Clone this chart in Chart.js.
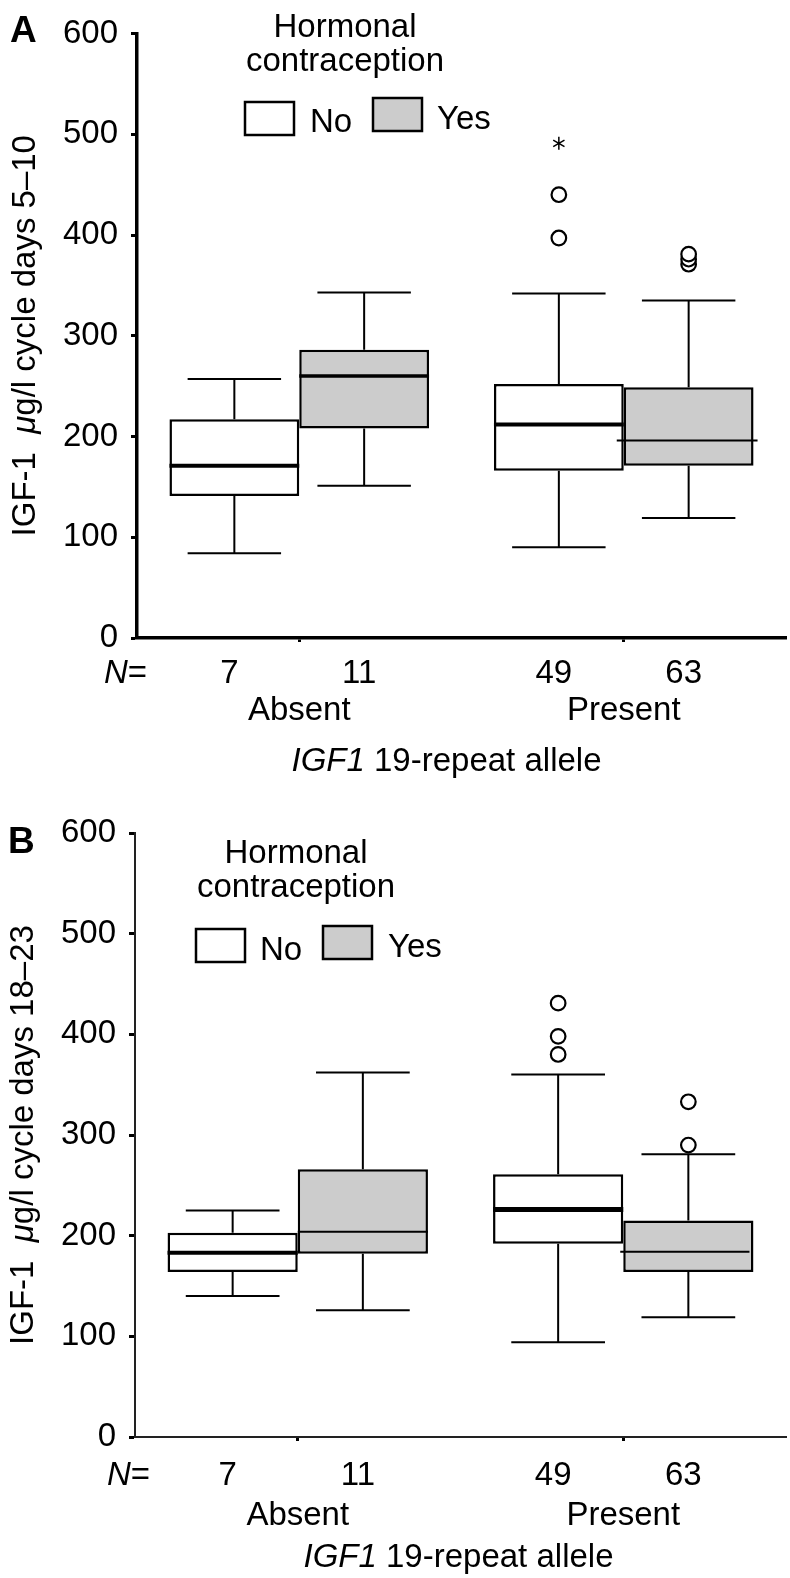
<!DOCTYPE html>
<html><head><meta charset="utf-8">
<script src="https://cdn.jsdelivr.net/npm/chart.js@4.4.1/dist/chart.umd.min.js"></script>
<style>
html,body{margin:0;padding:0;background:#fff;}
canvas{display:block;}
</style></head>
<body>
<canvas id="chartA" width="790" height="789"></canvas>
<canvas id="chartB" width="790" height="789"></canvas>
<script>
// ---------------- DATA ----------------
const categories = ['Absent', 'Present'];
const seriesNames = ['No', 'Yes'];
const yTickValues = [0, 100, 200, 300, 400, 500, 600];
const nNo = [7, 49];
const nYes = [11, 63];

// Panel A: IGF-1 cycle days 5–10
const aNoLow = [84, 90];
const aNoQ1 = [141, 166];
const aNoMed = [171, 212];
const aNoQ3 = [217, 252];
const aNoHigh = [257, 342];
const aNoOutliers = [[], [397, 440]];
const aNoExtremes = [[], [491]];
const aYesLow = [151, 119];
const aYesQ1 = [208, 171];
const aYesMed = [260, 196];
const aYesQ3 = [286, 249];
const aYesHigh = [343, 335];
const aYesOutliers = [[], [371, 376, 381]];
const aYesExtremes = [[], []];

// Panel B: IGF-1 cycle days 18–23
const bNoLow = [140, 94];
const bNoQ1 = [164, 192];
const bNoMed = [183, 226];
const bNoQ3 = [203, 261];
const bNoHigh = [225, 360];
const bNoOutliers = [[], [380, 398, 431]];
const bNoExtremes = [[], []];
const bYesLow = [126, 119];
const bYesQ1 = [182, 164];
const bYesMed = [204, 184];
const bYesQ3 = [266, 215];
const bYesHigh = [362, 281];
const bYesOutliers = [[], [290, 333]];
const bYesExtremes = [[], []];

// ---------------- STYLE ----------------
const FONT = '"Liberation Sans", Arial, Helvetica, sans-serif';
const FILL_NO = '#ffffff';
const FILL_YES = '#cccccc';

function makePanel(canvasId, cfg) {
  const series = [
    {name: seriesNames[0], low: cfg.noLow, q1: cfg.noQ1, med: cfg.noMed, q3: cfg.noQ3, high: cfg.noHigh, out: cfg.noOut, ext: cfg.noExt, n: nNo, fill: FILL_NO},
    {name: seriesNames[1], low: cfg.yesLow, q1: cfg.yesQ1, med: cfg.yesMed, q3: cfg.yesQ3, high: cfg.yesHigh, out: cfg.yesOut, ext: cfg.yesExt, n: nYes, fill: FILL_YES}
  ];

  const extras = {
    id: 'boxExtras',
    afterDatasetsDraw(chart) {
      const ctx = chart.ctx;
      const ys = chart.scales.y;
      series.forEach((s, i) => {
        const meta = chart.getDatasetMeta(i);
        meta.data.forEach((bar, j) => {
          const cx = bar.x, w = bar.width;
          const capHalf = w * 0.36;
          const pQ1 = ys.getPixelForValue(s.q1[j]);
          const pQ3 = ys.getPixelForValue(s.q3[j]);
          const pLo = ys.getPixelForValue(s.low[j]);
          const pHi = ys.getPixelForValue(s.high[j]);
          ctx.save();
          ctx.strokeStyle = '#000';
          ctx.lineCap = 'butt';
          ctx.lineWidth = cfg.whiskerWidth;
          ctx.beginPath();
          ctx.moveTo(cx, pQ3); ctx.lineTo(cx, pHi);
          ctx.moveTo(cx - capHalf, pHi); ctx.lineTo(cx + capHalf, pHi);
          ctx.moveTo(cx, pQ1); ctx.lineTo(cx, pLo);
          ctx.moveTo(cx - capHalf, pLo); ctx.lineTo(cx + capHalf, pLo);
          ctx.stroke();
          // median
          const ms = cfg.medianStyle[i][j];
          const pm = ys.getPixelForValue(s.med[j]);
          ctx.lineWidth = ms.w;
          ctx.beginPath();
          ctx.moveTo(cx - w / 2 - ms.l, pm);
          ctx.lineTo(cx + w / 2 + ms.r, pm);
          ctx.stroke();
          // outliers (circles)
          ctx.lineWidth = 2.2;
          s.out[j].forEach(v => {
            const py = ys.getPixelForValue(v);
            ctx.beginPath();
            ctx.arc(cx, py, 7.3, 0, Math.PI * 2);
            ctx.fillStyle = '#fff';
            ctx.fill();
            ctx.stroke();
          });
          // extremes (asterisk)
          ctx.lineWidth = 1.5;
          s.ext[j].forEach(v => {
            const py = ys.getPixelForValue(v);
            const r = 6.5;
            ctx.beginPath();
            for (let k = 0; k < 3; k++) {
              const a = Math.PI / 2 + k * Math.PI / 3;
              ctx.moveTo(cx + r * Math.cos(a), py + r * Math.sin(a));
              ctx.lineTo(cx - r * Math.cos(a), py - r * Math.sin(a));
            }
            ctx.stroke();
          });
          // N label
          ctx.fillStyle = '#000';
          ctx.font = '33px ' + FONT;
          ctx.textAlign = 'center';
          ctx.textBaseline = 'alphabetic';
          ctx.fillText(String(s.n[j]), cx - 5, chart.chartArea.bottom + cfg.nOffset);
          ctx.restore();
        });
      });
    },
    afterDraw(chart) {
      const ctx = chart.ctx;
      const ca = chart.chartArea;
      ctx.save();
      ctx.fillStyle = '#000';
      ctx.textBaseline = 'alphabetic';
      // panel letter
      ctx.font = 'bold 37px ' + FONT;
      ctx.textAlign = 'left';
      ctx.fillText(cfg.letter, cfg.letterX, cfg.letterY);
      // y title (rotated) with italic mu
      ctx.save();
      ctx.translate(cfg.yTitleX, (ca.top + ca.bottom) / 2);
      ctx.rotate(-Math.PI / 2);
      ctx.textBaseline = 'middle';
      ctx.textAlign = 'left';
      const parts = [['IGF-1  ', ''], ['\u03bc', 'italic '], [cfg.yTitleRest, '']];
      let total = 0;
      parts.forEach(p => { ctx.font = p[1] + '33px ' + FONT; total += ctx.measureText(p[0]).width; });
      let px = -total / 2;
      parts.forEach(p => { ctx.font = p[1] + '33px ' + FONT; ctx.fillText(p[0], px, 0); px += ctx.measureText(p[0]).width; });
      ctx.restore();
      // N=
      ctx.textBaseline = 'alphabetic';
      const nY = ca.bottom + cfg.nOffset;
      ctx.textAlign = 'right';
      ctx.font = '33px ' + FONT;
      const eqW = ctx.measureText('=').width;
      ctx.fillText('=', ca.left + cfg.nEqDx, nY);
      ctx.font = 'italic 33px ' + FONT;
      ctx.fillText('N', ca.left + cfg.nEqDx - eqW, nY);
      // x title: IGF1 (italic) + 19-repeat allele
      ctx.font = 'italic 33px ' + FONT;
      const p1 = 'IGF1';
      const w1 = ctx.measureText(p1).width;
      ctx.font = '33px ' + FONT;
      const p2 = ' 19-repeat allele';
      const w2 = ctx.measureText(p2).width;
      const tx = (ca.left + ca.right) / 2 + cfg.xTitleDx - (w1 + w2) / 2;
      const ty = ca.bottom + cfg.xTitleOffset;
      ctx.textAlign = 'left';
      ctx.font = 'italic 33px ' + FONT;
      ctx.fillText(p1, tx, ty);
      ctx.font = '33px ' + FONT;
      ctx.fillText(p2, tx + w1, ty);
      // legend
      const L = cfg.legend;
      ctx.textAlign = 'center';
      ctx.font = '33px ' + FONT;
      ctx.fillText('Hormonal', L.titleX, L.titleY1);
      ctx.fillText('contraception', L.titleX, L.titleY2);
      ctx.lineWidth = 2.5;
      ctx.strokeStyle = '#000';
      L.boxes.forEach((b, k) => {
        ctx.fillStyle = series[k].fill;
        ctx.fillRect(b.x, b.y, 49, 33);
        ctx.strokeRect(b.x, b.y, 49, 33);
        ctx.fillStyle = '#000';
        ctx.textAlign = 'left';
        ctx.fillText(series[k].name, b.tx, b.ty);
      });
      ctx.restore();
    }
  };

  return new Chart(document.getElementById(canvasId), {
    type: 'bar',
    data: {
      labels: categories,
      datasets: series.map(s => ({
        label: s.name,
        data: categories.map((c, j) => [s.q1[j], s.q3[j]]),
        backgroundColor: s.fill,
        borderColor: '#000',
        borderWidth: 2.5,
        borderSkipped: false,
        categoryPercentage: 0.8,
        barPercentage: 1.0
      }))
    },
    options: {
      responsive: false,
      animation: false,
      events: [],
      layout: {autoPadding: false, padding: {top: cfg.padTop, right: 4, left: 0, bottom: 0}},
      plugins: {legend: {display: false}, tooltip: {enabled: false}},
      scales: {
        x: {
          type: 'category',
          offset: true,
          grid: {display: true, drawOnChartArea: false, drawTicks: true, tickLength: 4, tickWidth: 3, tickColor: '#000', offset: false},
          border: {display: true, color: cfg.axisColor, width: cfg.axisWidth},
          ticks: {font: {family: FONT, size: 33}, color: '#000', padding: cfg.xPad, maxRotation: 0, autoSkip: false},
          afterFit(s) { s.height = cfg.xHeight; }
        },
        y: {
          min: 0, max: 600,
          afterBuildTicks(s) { s.ticks = yTickValues.map(v => ({value: v})); },
          ticks: {font: {family: FONT, size: 33}, color: '#000', padding: 13},
          grid: {display: true, drawOnChartArea: false, drawTicks: true, tickLength: 6, tickWidth: 3, tickColor: '#000'},
          border: {display: true, color: cfg.axisColor, width: cfg.axisWidth},
          title: {display: false},
          afterFit(s) { s.width = cfg.yWidth; }
        }
      }
    },
    plugins: [extras]
  });
}

makePanel('chartA', {
  noLow: aNoLow, noQ1: aNoQ1, noMed: aNoMed, noQ3: aNoQ3, noHigh: aNoHigh, noOut: aNoOutliers, noExt: aNoExtremes,
  yesLow: aYesLow, yesQ1: aYesQ1, yesMed: aYesMed, yesQ3: aYesQ3, yesHigh: aYesHigh, yesOut: aYesOutliers, yesExt: aYesExtremes,
  yTitleRest: 'g/l cycle days 5\u201310', yTitleX: 26,
  letter: 'A', letterX: 10, letterY: 42,
  padTop: 33.5, yWidth: 137, xHeight: 151, xPad: 49,
  axisWidth: 3.5, axisColor: '#000', whiskerWidth: 2,
  nOffset: 45, nEqDx: 10, xTitleOffset: 133, xTitleDx: -15,
  medianStyle: [[{w: 4, l: 0, r: 0}, {w: 4, l: 0, r: 0}], [{w: 3.5, l: 0, r: 0}, {w: 2, l: 7, r: 4}]],
  legend: {titleX: 345, titleY1: 37, titleY2: 71,
    boxes: [{x: 245, y: 102, tx: 310, ty: 132}, {x: 373, y: 98, tx: 437, ty: 129}]}
});

makePanel('chartB', {
  noLow: bNoLow, noQ1: bNoQ1, noMed: bNoMed, noQ3: bNoQ3, noHigh: bNoHigh, noOut: bNoOutliers, noExt: bNoExtremes,
  yesLow: bYesLow, yesQ1: bYesQ1, yesMed: bYesMed, yesQ3: bYesQ3, yesHigh: bYesHigh, yesOut: bYesOutliers, yesExt: bYesExtremes,
  yTitleRest: 'g/l cycle days 18\u201323', yTitleX: 24,
  letter: 'B', letterX: 8, letterY: 64,
  padTop: 44, yWidth: 135, xHeight: 141, xPad: 55,
  axisWidth: 2, axisColor: '#222', whiskerWidth: 2,
  nOffset: 48, nEqDx: 15, xTitleOffset: 130, xTitleDx: -2,
  medianStyle: [[{w: 4, l: 0, r: 0}, {w: 5, l: 0, r: 0}], [{w: 2, l: 0, r: 0}, {w: 2, l: 3, r: -4}]],
  legend: {titleX: 296, titleY1: 74, titleY2: 108,
    boxes: [{x: 196, y: 140, tx: 260, ty: 171}, {x: 323, y: 137, tx: 388, ty: 168}]}
});
</script>
</body></html>
